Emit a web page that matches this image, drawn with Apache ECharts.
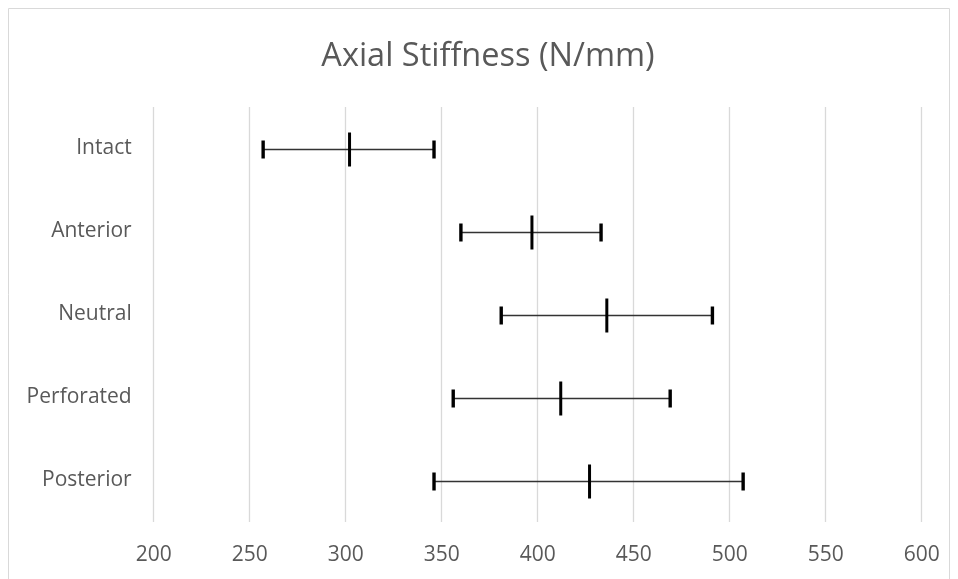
<!DOCTYPE html>
<html>
<head>
<meta charset="utf-8">
<script src="https://cdn.jsdelivr.net/npm/echarts@6/dist/echarts.min.js"></script>
<style>
  html, body { margin: 0; padding: 0; background: #fff; }
  #main { width: 958px; height: 579px; }
</style>
</head>
<body>
<div id="main"></div>
<script>
// 数据
var categories = ['Intact', 'Anterior', 'Neutral', 'Perforated', 'Posterior'];
var means = [302, 397, 436, 412, 427];
var lows  = [257, 360, 381, 356, 346];
var highs = [346, 433, 491, 469, 507];

var errData = categories.map(function (c, i) {
  return [i, lows[i], means[i], highs[i]];
});

var myChart = echarts.init(document.getElementById('main'));

function renderBar(params, api) {
  var idx = api.value(0);
  var pLow = api.coord([api.value(1), idx]);
  var pMean = api.coord([api.value(2), idx]);
  var pHigh = api.coord([api.value(3), idx]);
  var y = pMean[1] + 1;
  var capH = 18, capW = 3.4, meanH = 34, meanW = 3;
  return {
    type: 'group',
    children: [
      {
        type: 'line',
        shape: { x1: pLow[0], y1: y, x2: pHigh[0], y2: y },
        style: { stroke: '#333', lineWidth: 1.3 }
      },
      {
        type: 'rect',
        shape: { x: pLow[0] - capW / 2, y: y - capH / 2, width: capW, height: capH },
        style: { fill: '#000' }
      },
      {
        type: 'rect',
        shape: { x: pHigh[0] - capW / 2, y: y - capH / 2, width: capW, height: capH },
        style: { fill: '#000' }
      },
      {
        type: 'rect',
        shape: { x: pMean[0] - meanW / 2, y: y - meanH / 2, width: meanW, height: meanH },
        style: { fill: '#000' }
      }
    ]
  };
}

myChart.setOption({
  animation: false,
  textStyle: { fontFamily: 'Open Sans' },
  graphic: [{
    type: 'rect',
    shape: { x: 8.5, y: 8.5, width: 941, height: 600 },
    style: { fill: 'none', stroke: '#d9d9d9', lineWidth: 1 },
    z: -1
  }],
  title: {
    text: 'Axial Stiffness (N/mm)',
    left: 483,
    top: 35,
    textAlign: 'center',
    textStyle: { fontFamily: 'Open Sans', fontSize: 32.5, fontWeight: 'normal', color: '#595959' }
  },
  grid: { left: 153.7, right: 36.3, top: 107, bottom: 57 },
  xAxis: {
    type: 'value',
    min: 200,
    max: 600,
    interval: 50,
    axisLine: { show: false },
    axisTick: { show: false },
    axisLabel: { fontSize: 21, color: '#595959', margin: 23, fontFamily: 'Open Sans' },
    splitLine: { show: true, lineStyle: { color: '#d9d9d9', width: 1.3 } }
  },
  yAxis: {
    type: 'category',
    data: categories,
    inverse: true,
    axisLine: { show: false },
    axisTick: { show: false },
    axisLabel: { fontSize: 21, color: '#595959', margin: 22, fontFamily: 'Open Sans' },
    splitLine: { show: false }
  },
  series: [{
    type: 'custom',
    name: 'Axial Stiffness',
    renderItem: renderBar,
    encode: { x: [1, 2, 3], y: 0 },
    data: errData
  }]
});
</script>
</body>
</html>
